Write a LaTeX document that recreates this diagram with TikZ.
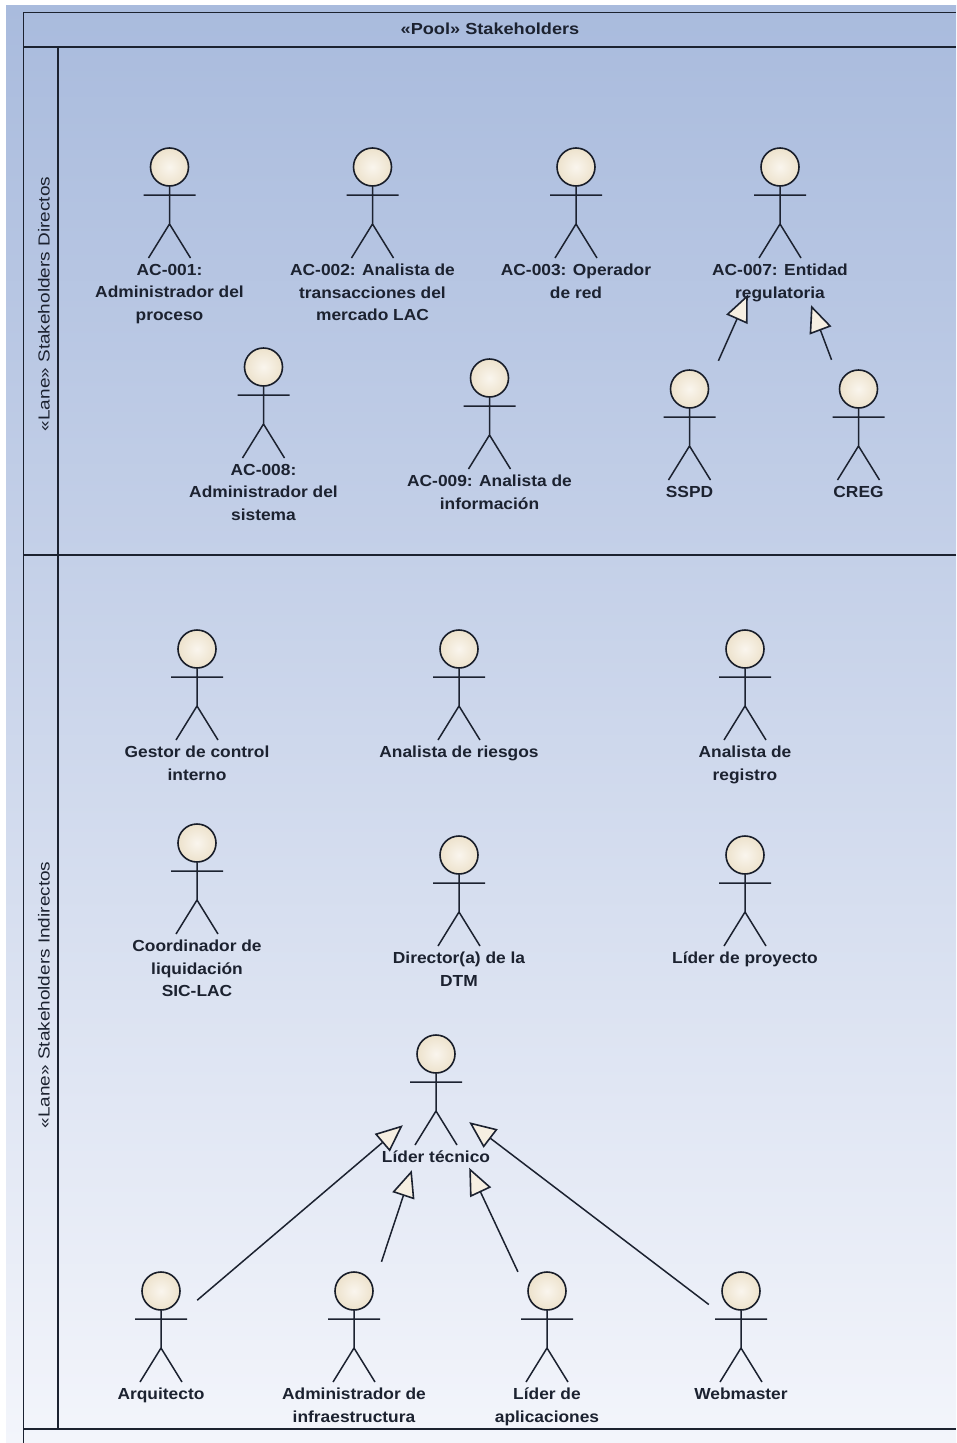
\documentclass[tikz,border=0pt]{standalone}
\usepackage{fontspec}
\setmainfont{Liberation Sans}
\newfontfamily\labelfont[FakeStretch=1.085]{Liberation Sans}
\newfontfamily\poolfont[FakeStretch=1.135]{Liberation Sans}
\newfontfamily\lanefont[FakeStretch=1.186]{Liberation Sans}
\usetikzlibrary{arrows.meta}
\definecolor{ink}{HTML}{1C2230}
\definecolor{cream}{HTML}{F6EFE2}
\definecolor{creamdk}{HTML}{EDE2CC}
\definecolor{bgA}{HTML}{A9BBDD}
\definecolor{bgB}{HTML}{C4D0E8}
\definecolor{bgC}{HTML}{F3F5FB}
\tikzset{
  frame/.style={draw=ink,line width=1.8pt},
  limb/.style={draw=ink,line width=1.5pt},
  head/.style={circle,draw=ink!85!black,line width=1.6pt,minimum size=38pt,inner sep=0pt,inner color=cream!60!white,outer color=creamdk},
  actorlabel/.style={anchor=north,align=center,inner sep=0pt,text=ink,font=\labelfont\fontsize{16}{22.5}\selectfont\bfseries},
  lanetitle/.style={rotate=90,inner sep=0pt,text=ink,font=\lanefont\fontsize{16}{18}\selectfont},
  pooltitle/.style={inner sep=0pt,text=ink,font=\poolfont\fontsize{16}{18}\selectfont\bfseries},
  actorbox/.style={rectangle,inner sep=0pt,draw=none,fill=none},
  generalizes/.style={draw=ink,line width=1.5pt,-{Triangle[open,length=27pt,width=23pt,fill=cream,line width=1.6pt]}},
}
% #1 name, #2 x, #3 y of head centre, #4 label
\newcommand{\umlactor}[4]{%
  \begin{scope}[shift={(#2,#3)}]
    \node[head] (#1-head) at (0,0) {};
    \node[actorlabel] (#1-label) at (0,97) {#4};
    \coordinate (#1-hip) at (0,57);
    \coordinate (#1-lfoot) at (-21,91);
    \coordinate (#1-rfoot) at (21,91);
    \coordinate (#1-larm) at (-26,28);
    \coordinate (#1-rarm) at (26,28);
    \draw[limb] (#1-head.south) -- (#1-hip) -- (#1-lfoot) (#1-hip) -- (#1-rfoot) (#1-larm) -- (#1-rarm);
  \end{scope}%
}
\begin{document}
\begin{tikzpicture}[x=1pt,y=-1pt]
\useasboundingbox (0,0) rectangle (956,1443);
\fill[white] (0,0) rectangle (956,1443);
\shade[top color=bgA,bottom color=bgB,draw=none] (6,5) rectangle (956,555.5);
\shade[top color=bgB,bottom color=bgC,draw=none] (6,555) rectangle (956,1443);
% frame
\draw[frame] (23.5,1443) -- (23.5,12.5) -- (956,12.5);
\draw[frame] (23.5,47) -- (956,47);
\draw[frame] (58,47) -- (58,1429);
\draw[frame] (23.5,555) -- (956,555);
\draw[frame] (23.5,1429) -- (956,1429);
\node[pooltitle] (pool) at (490,29) {«Pool» Stakeholders};
\node[lanetitle] (laneA) at (44,304) {«Lane» Stakeholders Directos};
\node[lanetitle] (laneB) at (44,995) {«Lane» Stakeholders Indirectos};
% actors
\umlactor{ac1}{169.5}{167}{AC-001:\\Administrador del\\proceso}
\umlactor{ac2}{372.5}{167}{AC-002: Analista de\\transacciones del\\mercado LAC}
\umlactor{ac3}{576}{167}{AC-003: Operador\\de red}
\umlactor{ac7}{780}{167}{AC-007: Entidad\\regulatoria}
\umlactor{ac8}{263.5}{367}{AC-008:\\Administrador del\\sistema}
\umlactor{ac9}{489.5}{378}{AC-009: Analista de\\información}
\umlactor{sspd}{689.5}{389}{SSPD}
\umlactor{creg}{858.5}{389}{CREG}
\umlactor{gestor}{197}{649}{Gestor de control\\interno}
\umlactor{riesgos}{459}{649}{Analista de riesgos}
\umlactor{registro}{745}{649}{Analista de\\registro}
\umlactor{coord}{197}{843}{Coordinador de\\liquidación\\SIC-LAC}
\umlactor{director}{459}{855}{Director(a) de la\\DTM}
\umlactor{proyecto}{745}{855}{Líder de proyecto}
\umlactor{tecnico}{436}{1054}{Líder técnico}
\umlactor{arq}{161}{1291}{Arquitecto}
\umlactor{infra}{354}{1291}{Administrador de\\infraestructura}
\umlactor{aplic}{547}{1291}{Líder de\\aplicaciones}
\umlactor{web}{741}{1291}{Webmaster}
% invisible bounding boxes of the connected actors
\node[actorbox,minimum width=64pt,minimum height=166pt] (box-ac7) at (780,222) {};
\node[actorbox,minimum width=60pt,minimum height=128pt] (box-sspd) at (690,425) {};
\node[actorbox,minimum width=60pt,minimum height=130pt] (box-creg) at (856,425) {};
\node[actorbox,minimum width=66pt,minimum height=146pt] (box-tecnico) at (436,1097) {};
\node[actorbox,minimum width=72pt,minimum height=130pt] (box-arq) at (161,1331) {};
\node[actorbox,minimum width=60pt,minimum height=166pt] (box-infra) at (354,1345) {};
\node[actorbox,minimum width=60pt,minimum height=124pt] (box-aplic) at (547,1334) {};
\node[actorbox,minimum width=64pt,minimum height=130pt] (box-web) at (741,1329) {};
% connectors
\draw[generalizes] (box-sspd) -- (box-ac7);
\draw[generalizes] (box-creg) -- (box-ac7);
\draw[generalizes] (box-arq) -- (box-tecnico);
\draw[generalizes] (box-infra) -- (box-tecnico);
\draw[generalizes] (box-aplic) -- (box-tecnico);
\draw[generalizes] (box-web) -- (box-tecnico);
\end{tikzpicture}
\end{document}
